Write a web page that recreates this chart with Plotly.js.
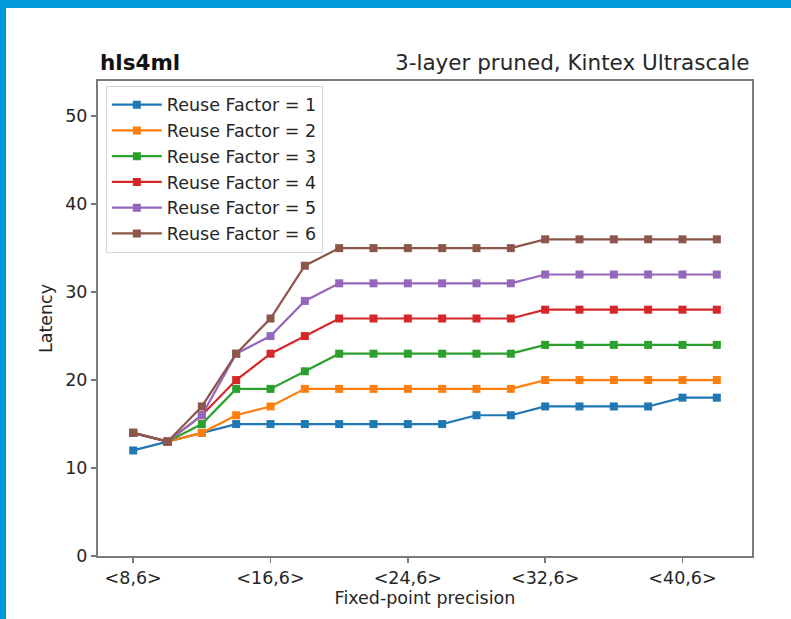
<!DOCTYPE html>
<html>
<head>
<meta charset="utf-8">
<script src="https://cdn.plot.ly/plotly-3.0.1.min.js"></script>
<style>
  html, body { margin: 0; padding: 0; background: #fff; }
  #wrap { position: relative; width: 791px; height: 619px; overflow: hidden; }
  #chart { width: 791px; height: 619px; }
  .stripe { position: absolute; background: #009ad8; z-index: 10; }
</style>
</head>
<body>
<div id="wrap">
  <div id="chart"></div>
  <div class="stripe" style="left:0;top:0;width:791px;height:8px;"></div>
  <div class="stripe" style="left:0;top:0;width:6px;height:619px;"></div>
</div>
<script>
// Data
const precisionBits = [8, 10, 12, 14, 16, 18, 20, 22, 24, 26, 28, 30, 32, 34, 36, 38, 40, 42];
const tickValues = [8, 16, 24, 32, 40];
const tickLabels = ["<8,6>", "<16,6>", "<24,6>", "<32,6>", "<40,6>"];
const seriesNames = ["Reuse Factor = 1", "Reuse Factor = 2", "Reuse Factor = 3",
                     "Reuse Factor = 4", "Reuse Factor = 5", "Reuse Factor = 6"];
const rf1 = [12, 13, 14, 15, 15, 15, 15, 15, 15, 15, 16, 16, 17, 17, 17, 17, 18, 18];
const rf2 = [14, 13, 14, 16, 17, 19, 19, 19, 19, 19, 19, 19, 20, 20, 20, 20, 20, 20];
const rf3 = [14, 13, 15, 19, 19, 21, 23, 23, 23, 23, 23, 23, 24, 24, 24, 24, 24, 24];
const rf4 = [14, 13, 16, 20, 23, 25, 27, 27, 27, 27, 27, 27, 28, 28, 28, 28, 28, 28];
const rf5 = [14, 13, 16, 23, 25, 29, 31, 31, 31, 31, 31, 31, 32, 32, 32, 32, 32, 32];
const rf6 = [14, 13, 17, 23, 27, 33, 35, 35, 35, 35, 35, 35, 36, 36, 36, 36, 36, 36];
const colors = ["#1f77b4", "#ff7f0e", "#2ca02c", "#d62728", "#9467bd", "#8c564b"];

const allSeries = [rf1, rf2, rf3, rf4, rf5, rf6];
const traces = allSeries.map((ys, i) => ({
  x: precisionBits,
  y: ys,
  name: seriesNames[i],
  type: "scatter",
  mode: "lines+markers",
  line: { color: colors[i], width: 2.2 },
  marker: { color: colors[i], symbol: "square", size: 8 }
}));

const font = "DejaVu Sans, sans-serif";
const axisColor = "#7a7a7a";
const textColor = "#262626";
const layout = {
  width: 791, height: 619,
  margin: { l: 98, r: 39, t: 81, b: 63 },
  paper_bgcolor: "#ffffff",
  plot_bgcolor: "#ffffff",
  font: { family: font, size: 17, color: textColor },
  showlegend: true,
  legend: {
    x: 0.012, y: 0.99, xanchor: "left", yanchor: "top",
    bgcolor: "rgba(255,255,255,0.8)",
    bordercolor: "#d6d6d6", borderwidth: 1,
    font: { family: font, size: 17.5, color: textColor },
    itemwidth: 50
  },
  xaxis: {
    range: [5.95, 44.05],
    tickvals: tickValues, ticktext: tickLabels,
    ticks: "outside", ticklen: 5, tickwidth: 1.5, tickcolor: axisColor,
    showgrid: false, zeroline: false,
    showline: true, linecolor: axisColor, linewidth: 2, mirror: true,
    tickfont: { family: font, size: 17.5, color: textColor },
    title: { text: "Fixed-point precision", font: { family: font, size: 17.5, color: textColor }, standoff: 5 }
  },
  yaxis: {
    range: [0, 54],
    tickvals: [0, 10, 20, 30, 40, 50],
    ticks: "outside", ticklen: 5, tickwidth: 1.5, tickcolor: axisColor,
    showgrid: false, zeroline: false,
    showline: true, linecolor: axisColor, linewidth: 2, mirror: true,
    tickfont: { family: font, size: 17.5, color: textColor },
    title: { text: "Latency", font: { family: font, size: 17.5, color: textColor }, standoff: 8 }
  },
  annotations: [
    { text: "<b>hls4ml</b>", xref: "paper", yref: "paper", x: 0, y: 1, xanchor: "left", yanchor: "bottom",
      yshift: 4, showarrow: false, font: { family: font, size: 21.5, color: "#111" } },
    { text: "3-layer pruned, Kintex Ultrascale", xref: "paper", yref: "paper", x: 1, y: 1,
      xanchor: "right", yanchor: "bottom", yshift: 4, showarrow: false,
      font: { family: font, size: 21.5, color: textColor } }
  ]
};

Plotly.newPlot("chart", traces, layout, { displayModeBar: false, staticPlot: true });
</script>
</body>
</html>
